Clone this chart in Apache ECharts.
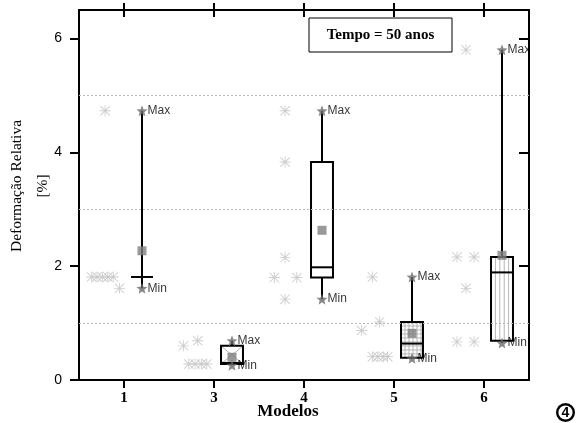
<!DOCTYPE html>
<html>
<head>
<meta charset="utf-8">
<script src="https://cdn.jsdelivr.net/npm/echarts@6/dist/echarts.min.js"></script>
<style>
html,body{margin:0;padding:0;background:#fff;}
#chart{width:577px;height:423px;}
</style>
</head>
<body>
<div id="chart"></div>
<script>
// ---------- data ----------
const categories = ['1', '3', '4', '5', '6'];
const yTicks = [0, 2, 4, 6];
const gridValues = [1, 3, 5];

const boxMin    = [1.61, 0.26, 1.42, 0.38, 0.65];
const boxQ1     = [1.81, 0.28, 1.80, 0.39, 0.69];
const boxMedian = [1.81, 0.30, 1.98, 0.64, 1.89];
const boxQ3     = [1.81, 0.60, 3.83, 1.02, 2.16];
const boxMax    = [4.73, 0.69, 4.73, 1.81, 5.80];
const boxMean   = [2.27, 0.40, 2.63, 0.82, 2.19];

// individual observations: [jitter offset within the model slot, value]
const pointsModel1 = [[-0.21, 4.73], [-0.36, 1.81], [-0.30, 1.81], [-0.24, 1.81], [-0.18, 1.81], [-0.12, 1.81], [-0.05, 1.61]];
const pointsModel3 = [[-0.34, 0.60], [-0.18, 0.69], [-0.28, 0.28], [-0.21, 0.28], [-0.14, 0.28], [-0.08, 0.28]];
const pointsModel4 = [[-0.21, 4.73], [-0.21, 3.83], [-0.21, 2.15], [-0.33, 1.80], [-0.08, 1.80], [-0.21, 1.42]];
const pointsModel5 = [[-0.24, 1.81], [-0.36, 0.87], [-0.16, 1.02], [-0.24, 0.41], [-0.18, 0.41], [-0.12, 0.41], [-0.07, 0.41]];
const pointsModel6 = [[-0.20, 5.80], [-0.30, 2.16], [-0.11, 2.16], [-0.20, 1.61], [-0.30, 0.67], [-0.11, 0.67]];
const pointsByModel = [pointsModel1, pointsModel3, pointsModel4, pointsModel5, pointsModel6];

// ---------- style config ----------
const boxOffset = 0.2;
const boxWidth = 0.244;
const boxPatterns = ['none', 'cross', 'none', 'grid', 'vertical'];
const serif = "'Liberation Serif', 'Times New Roman', serif";
const sans = "'Liberation Sans', Arial, sans-serif";

function starPath() {
  let d = '';
  for (let i = 0; i < 10; i++) {
    const r = i % 2 ? 4.3 : 10;
    const a = -Math.PI / 2 + i * Math.PI / 5;
    d += (i ? 'L' : 'M') + (10 + r * Math.cos(a)).toFixed(2) + ' ' + (10 + r * Math.sin(a)).toFixed(2);
  }
  return 'path://' + d + 'Z';
}
const asteriskPath = 'path://M0 9.2L20 9.2L20 10.8L0 10.8Z M9.2 0L10.8 0L10.8 20L9.2 20Z M2.1 0.9L19.1 17.9L17.9 19.1L0.9 2.1Z M17.9 0.9L19.1 2.1L2.1 19.1L0.9 17.9Z';

const idx = categories.map((c, i) => i);
const boxData = idx.map(i => [i, boxMin[i], boxQ1[i], boxMedian[i], boxQ3[i], boxMax[i]]);
const meanData = idx.map(i => [i + boxOffset, boxMean[i]]);
const maxData = idx.map(i => [i + boxOffset, boxMax[i]]);
const minData = idx.map(i => [i + boxOffset, boxMin[i]]);
const pointData = [];
pointsByModel.forEach((pts, i) => pts.forEach(p => pointData.push([i + p[0], p[1]])));

function renderBox(params, api) {
  const i = api.value(0);
  const x = i + boxOffset;
  const c = v => api.coord([x, v]);
  const half = api.size([boxWidth, 0])[0] / 2;
  const pMin = c(api.value(1)), pQ1 = c(api.value(2)), pMed = c(api.value(3)), pQ3 = c(api.value(4)), pMax = c(api.value(5));
  const cx = pMax[0];
  const stroke = { stroke: '#000', lineWidth: 2 };
  const children = [];
  children.push({ type: 'line', shape: { x1: cx, y1: pMax[1], x2: cx, y2: pQ3[1] }, style: stroke });
  children.push({ type: 'line', shape: { x1: cx, y1: pQ1[1], x2: cx, y2: pMin[1] }, style: stroke });
  const top = pQ3[1], bot = pQ1[1], left = cx - half, right = cx + half;
  if (bot - top > 1) {
    children.push({ type: 'rect', shape: { x: left, y: top, width: right - left, height: bot - top }, style: { fill: '#fff' } });
    const pat = boxPatterns[i];
    const ps = { stroke: '#b5b5b5', lineWidth: 1 };
    if (pat === 'cross') {
      children.push({ type: 'line', shape: { x1: left + 1, y1: top + 1, x2: right - 1, y2: bot - 1 }, style: ps });
      children.push({ type: 'line', shape: { x1: right - 1, y1: top + 1, x2: left + 1, y2: bot - 1 }, style: ps });
    } else if (pat === 'grid') {
      for (let xx = left + 4; xx < right - 1; xx += 4) children.push({ type: 'line', shape: { x1: xx, y1: top, x2: xx, y2: bot }, style: ps });
      for (let yy = top + 4; yy < bot - 1; yy += 4) children.push({ type: 'line', shape: { x1: left, y1: yy, x2: right, y2: yy }, style: ps });
    } else if (pat === 'vertical') {
      for (let xx = left + 4.4; xx < right - 1; xx += 4.4) children.push({ type: 'line', shape: { x1: xx, y1: top, x2: xx, y2: bot }, style: ps });
    }
    children.push({ type: 'rect', shape: { x: left, y: top, width: right - left, height: bot - top }, style: { fill: 'none', stroke: '#000', lineWidth: 2 } });
  }
  children.push({ type: 'line', shape: { x1: left, y1: pMed[1], x2: right, y2: pMed[1] }, style: stroke });
  return { type: 'group', children: children };
}

const tickIdx = idx.slice();
const axisLineStyle = { color: '#000', width: 2 };

const option = {
  animation: false,
  backgroundColor: '#fff',
  grid: { left: 79, right: 48, top: 10, bottom: 43, containLabel: false },
  xAxis: [
    {
      type: 'value', position: 'bottom', min: -0.5, max: 4.5,
      axisLine: { show: true, onZero: false, lineStyle: axisLineStyle },
      axisTick: { show: true, inside: false, length: 8, lineStyle: { color: '#000', width: 2 }, customValues: tickIdx },
      axisLabel: { customValues: tickIdx, formatter: v => categories[Math.round(v)], color: '#000', fontFamily: serif, fontWeight: 'bold', fontSize: 15, margin: 11 },
      splitLine: { show: false }
    },
    {
      type: 'value', position: 'top', min: -0.5, max: 4.5,
      axisLine: { show: true, onZero: false, lineStyle: axisLineStyle },
      axisTick: { show: true, inside: true, length: 7, lineStyle: { color: '#000', width: 2 }, customValues: tickIdx },
      axisLabel: { show: false }, splitLine: { show: false }
    },
    {
      type: 'value', position: 'top', min: -0.5, max: 4.5,
      axisLine: { show: true, onZero: false, lineStyle: axisLineStyle },
      axisTick: { show: true, inside: false, length: 7, lineStyle: { color: '#000', width: 2 }, customValues: tickIdx },
      axisLabel: { show: false }, splitLine: { show: false }
    }
  ],
  yAxis: [
    {
      type: 'value', position: 'left', min: 0, max: 6.5,
      axisLine: { show: true, onZero: false, lineStyle: axisLineStyle },
      axisTick: { show: true, inside: false, length: 9, lineStyle: { color: '#000', width: 2 }, customValues: yTicks },
      axisLabel: { customValues: yTicks, color: '#000', fontFamily: sans, fontSize: 14, margin: 17 },
      splitLine: { show: false }
    },
    {
      type: 'value', position: 'right', min: 0, max: 6.5,
      axisLine: { show: true, onZero: false, lineStyle: axisLineStyle },
      axisTick: { show: true, inside: true, length: 10, lineStyle: { color: '#000', width: 2 }, customValues: yTicks },
      axisLabel: { show: false }, splitLine: { show: false }
    }
  ],
  series: [
    {
      type: 'scatter', name: 'observações', xAxisIndex: 0, yAxisIndex: 0,
      data: pointData, symbol: asteriskPath, symbolSize: 11,
      itemStyle: { color: '#c2c2c2' }, z: 2,
      markLine: {
        silent: true, symbol: 'none', animation: false,
        label: { show: false },
        lineStyle: { color: '#b8b8b8', width: 1, type: [2, 2] },
        data: gridValues.map(v => ({ yAxis: v }))
      }
    },
    {
      type: 'custom', name: 'caixa', xAxisIndex: 0, yAxisIndex: 0,
      data: boxData, encode: { x: 0, y: [1, 2, 3, 4, 5] },
      renderItem: renderBox, z: 3
    },
    {
      type: 'scatter', name: 'média', xAxisIndex: 0, yAxisIndex: 0,
      data: meanData, symbol: 'rect', symbolSize: 9,
      itemStyle: { color: '#7f7f7f' }, z: 4
    },
    {
      type: 'scatter', name: 'Max', xAxisIndex: 0, yAxisIndex: 0,
      data: maxData, symbol: starPath(), symbolSize: 11,
      itemStyle: { color: '#6b6b6b' }, z: 5,
      label: { show: true, position: 'right', distance: 0, formatter: 'Max', fontFamily: sans, fontSize: 12, color: '#000' }
    },
    {
      type: 'scatter', name: 'Min', xAxisIndex: 0, yAxisIndex: 0,
      data: minData, symbol: starPath(), symbolSize: 11,
      itemStyle: { color: '#6b6b6b' }, z: 5,
      label: { show: true, position: 'right', distance: 0, formatter: 'Min', fontFamily: sans, fontSize: 12, color: '#000' }
    }
  ],
  graphic: [
    {
      type: 'rect', z: 10, shape: { x: 309, y: 18, width: 143, height: 34 },
      style: { fill: '#fff', stroke: '#000', lineWidth: 1 }
    },
    {
      type: 'text', z: 11, x: 380.5, y: 35.5,
      style: { text: 'Tempo = 50 anos', font: 'bold 15px ' + serif, fill: '#000', align: 'center', verticalAlign: 'middle' }
    },
    {
      type: 'text', x: 30, y: 186, rotation: Math.PI / 2,
      style: { text: 'Deformação Relativa\n[%]', font: '15.5px ' + serif, lineHeight: 26, fill: '#000', align: 'center', verticalAlign: 'middle' }
    },
    {
      type: 'text', x: 288, y: 412,
      style: { text: 'Modelos', font: 'bold 17px ' + serif, fill: '#000', align: 'center', verticalAlign: 'middle' }
    },
    {
      type: 'circle', shape: { cx: 565.5, cy: 412.5, r: 8.3 },
      style: { fill: '#fff', stroke: '#000', lineWidth: 2.4 }
    },
    {
      type: 'text', x: 565.5, y: 413,
      style: { text: '4', font: 'bold 14px ' + sans, fill: '#000', align: 'center', verticalAlign: 'middle' }
    }
  ]
};

const chart = echarts.init(document.getElementById('chart'), null, { renderer: 'canvas' });
chart.setOption(option);
</script>
</body>
</html>
